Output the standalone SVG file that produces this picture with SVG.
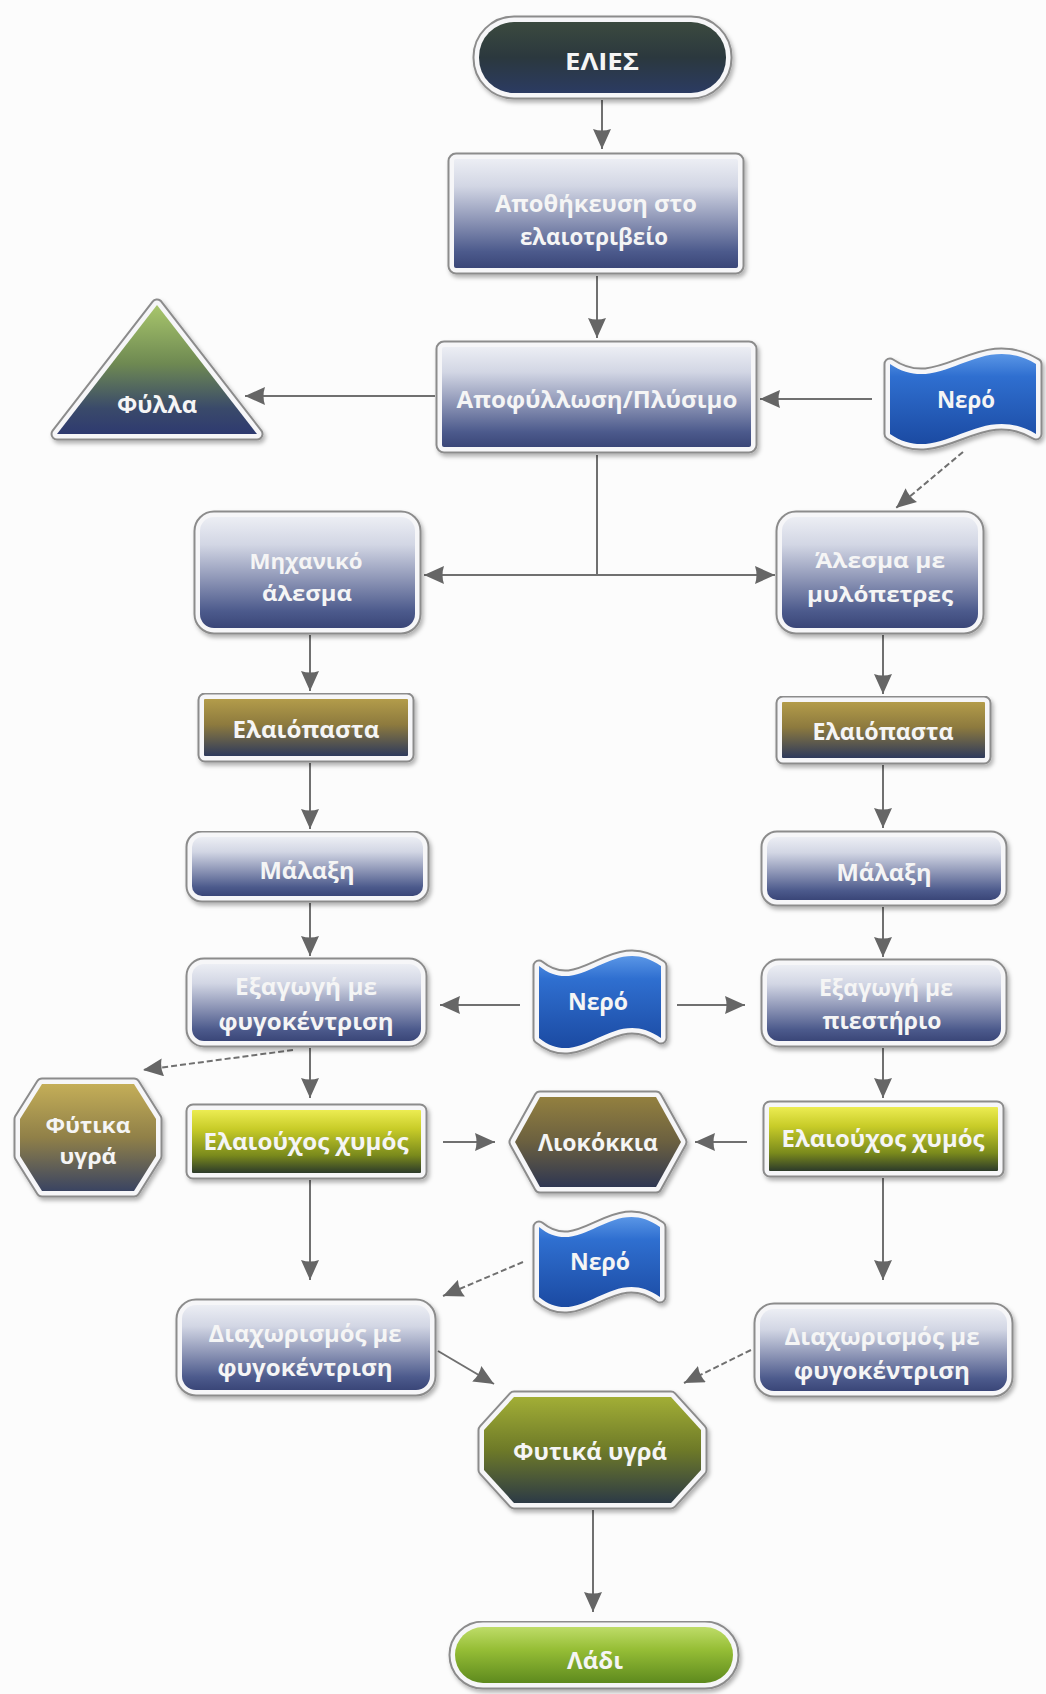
<svg xmlns="http://www.w3.org/2000/svg" width="1046" height="1694" viewBox="0 0 1046 1694">
<defs>
<style>
.ring{fill:none;stroke:#8c8c8c;stroke-width:13;stroke-linejoin:round;filter:url(#sh)}
.face{stroke:#f6f6f8;stroke-width:9;paint-order:stroke;stroke-linejoin:round}
.t{font-family:"Open Sans","DejaVu Sans",sans-serif;font-weight:700;font-size:24px;fill:#f5f5f5;text-anchor:middle}
.s{font-size:21px}
.c{fill:none;stroke:#707070;stroke-width:2;marker-end:url(#ah)}
.d{stroke-dasharray:6 3}
</style>
<filter id="sh" x="-10%" y="-10%" width="130%" height="140%"><feDropShadow dx="2" dy="3" stdDeviation="2" flood-color="#000" flood-opacity="0.3"/></filter>
<marker id="ah" viewBox="0 0 20 18" refX="20" refY="9" markerWidth="20" markerHeight="18" markerUnits="userSpaceOnUse" orient="auto"><path d="M0,0 L20,9 L0,18 Q3,9 0,0 Z" fill="#666"/></marker>
<linearGradient id="gBlue" x1="0" y1="0" x2="0" y2="1"><stop offset="0" stop-color="#eceef4"/><stop offset="0.25" stop-color="#d2d6e4"/><stop offset="0.55" stop-color="#9098b8"/><stop offset="0.85" stop-color="#4c5a8c"/><stop offset="1" stop-color="#3a4678"/></linearGradient>
<linearGradient id="gDark" x1="0" y1="0" x2="0" y2="1"><stop offset="0" stop-color="#3b4a3f"/><stop offset="0.5" stop-color="#2b383e"/><stop offset="1" stop-color="#2b3b62"/></linearGradient>
<linearGradient id="gBrown" x1="0" y1="0" x2="0" y2="1"><stop offset="0" stop-color="#b39c4a"/><stop offset="0.45" stop-color="#8d7a3e"/><stop offset="1" stop-color="#2e3a5c"/></linearGradient>
<linearGradient id="gYel" x1="0" y1="0" x2="0" y2="1"><stop offset="0" stop-color="#ecec52"/><stop offset="0.3" stop-color="#c8cc28"/><stop offset="0.72" stop-color="#7a8a1c"/><stop offset="1" stop-color="#2c3a2a"/></linearGradient>
<linearGradient id="gHex" x1="0" y1="0" x2="0" y2="1"><stop offset="0" stop-color="#93803f"/><stop offset="0.5" stop-color="#6b6040"/><stop offset="1" stop-color="#2e3652"/></linearGradient>
<linearGradient id="gKhaki" x1="0" y1="0" x2="0" y2="1"><stop offset="0" stop-color="#c4ae58"/><stop offset="0.5" stop-color="#908048"/><stop offset="1" stop-color="#3a4462"/></linearGradient>
<linearGradient id="gOlive" x1="0" y1="0" x2="0" y2="1"><stop offset="0" stop-color="#a2ae36"/><stop offset="0.5" stop-color="#6e7a28"/><stop offset="1" stop-color="#2c3a46"/></linearGradient>
<linearGradient id="gGreen" x1="0" y1="0" x2="0" y2="1"><stop offset="0" stop-color="#bedc68"/><stop offset="0.4" stop-color="#96be36"/><stop offset="1" stop-color="#5e8a1e"/></linearGradient>
<linearGradient id="gTri" x1="0" y1="0" x2="0" y2="1"><stop offset="0" stop-color="#a8c66c"/><stop offset="0.45" stop-color="#6f8a52"/><stop offset="0.8" stop-color="#3a4a6a"/><stop offset="1" stop-color="#2e3a70"/></linearGradient>
<linearGradient id="gWater" x1="0" y1="0" x2="0" y2="1"><stop offset="0" stop-color="#5a96e6"/><stop offset="0.25" stop-color="#2f6fd0"/><stop offset="1" stop-color="#1b4aa2"/></linearGradient>
</defs>
<rect width="1046" height="1694" fill="#fcfcfc"/>

<g id="connectors">
<path class="c" d="M602,100 V149"/>
<path class="c" d="M597,276 V338"/>
<path class="c" d="M435,396 H245"/>
<path class="c" d="M872,399 H760"/>
<path class="c" d="M597,455 V575 H424"/>
<path class="c" d="M597,575 H775"/>
<path class="c d" d="M963,452 L896,508"/>
<path class="c" d="M310,635 V691"/>
<path class="c" d="M310,763 V829"/>
<path class="c" d="M310,903 V956"/>
<path class="c" d="M883,635 V694"/>
<path class="c" d="M883,765 V828"/>
<path class="c" d="M883,907 V957"/>
<path class="c" d="M520,1005 H440"/>
<path class="c" d="M677,1005 H745"/>
<path class="c d" d="M293,1050 L143,1070"/>
<path class="c" d="M310,1048 V1098"/>
<path class="c" d="M883,1048 V1098"/>
<path class="c" d="M443,1142 H495"/>
<path class="c" d="M747,1142 H695"/>
<path class="c" d="M310,1180 V1280"/>
<path class="c" d="M883,1178 V1280"/>
<path class="c d" d="M523,1262 L443,1296"/>
<path class="c" d="M438,1351 L494,1384"/>
<path class="c d" d="M751,1350 L684,1383"/>
<path class="c" d="M593,1510 V1612"/>
</g>

<g id="n-elies">
<rect class="ring" x="479" y="22" width="247" height="71" rx="35"/>
<rect class="face" fill="url(#gDark)" x="479" y="22" width="247" height="71" rx="35"/>
<text class="t" x="602" y="70" font-size="26" textLength="74" lengthAdjust="spacingAndGlyphs">ΕΛΙΕΣ</text>
</g>

<g id="n-apothikeusi">
<rect class="ring" x="454" y="159" width="284" height="109" rx="2"/>
<rect class="face" fill="url(#gBlue)" x="454" y="159" width="284" height="109" rx="2"/>
<text class="t" x="596" y="212" textLength="202" lengthAdjust="spacingAndGlyphs">Αποθήκευση στο</text>
<text class="t" x="594" y="245" textLength="148" lengthAdjust="spacingAndGlyphs">ελαιοτριβείο</text>
</g>

<g id="n-apofyllosi">
<rect class="ring" x="442" y="347" width="309" height="100" rx="2"/>
<rect class="face" fill="url(#gBlue)" x="442" y="347" width="309" height="100" rx="2"/>
<text class="t" x="597" y="408" textLength="281" lengthAdjust="spacingAndGlyphs">Αποφύλλωση/Πλύσιμο</text>
</g>

<g id="n-fylla">
<path class="ring" d="M157,305 L257,434 L57,434 Z"/>
<path class="face" fill="url(#gTri)" d="M157,305 L257,434 L57,434 Z"/>
<text class="t" x="157" y="413" textLength="80" lengthAdjust="spacingAndGlyphs">Φύλλα</text>
</g>

<g id="n-nero1">
<path class="ring" transform="translate(890,352)" d="M0,12 C51,47 88,-23 146,12 L146,82 C88,47 51,117 0,82 Z"/>
<path class="face" fill="url(#gWater)" transform="translate(890,352)" d="M0,12 C51,47 88,-23 146,12 L146,82 C88,47 51,117 0,82 Z"/>
<text class="t" x="966" y="408" textLength="58" lengthAdjust="spacingAndGlyphs">Νερό</text>
</g>

<g id="n-michaniko">
<rect class="ring" x="200" y="517" width="215" height="111" rx="14"/>
<rect class="face" fill="url(#gBlue)" x="200" y="517" width="215" height="111" rx="14"/>
<text class="t s" x="306" y="569" textLength="113" lengthAdjust="spacingAndGlyphs">Μηχανικό</text>
<text class="t s" x="307" y="601" textLength="90" lengthAdjust="spacingAndGlyphs">άλεσμα</text>
</g>

<g id="n-mylopetres">
<rect class="ring" x="782" y="517" width="196" height="111" rx="14"/>
<rect class="face" fill="url(#gBlue)" x="782" y="517" width="196" height="111" rx="14"/>
<text class="t s" x="880" y="568" textLength="130" lengthAdjust="spacingAndGlyphs">Άλεσμα με</text>
<text class="t s" x="880" y="602" textLength="146" lengthAdjust="spacingAndGlyphs">μυλόπετρες</text>
</g>

<g id="n-elaiopasta-l">
<rect class="ring" x="204" y="699" width="204" height="57" rx="1"/>
<rect class="face" fill="url(#gBrown)" x="204" y="699" width="204" height="57" rx="1"/>
<text class="t" x="306" y="738" textLength="147" lengthAdjust="spacingAndGlyphs">Ελαιόπαστα</text>
</g>

<g id="n-elaiopasta-r">
<rect class="ring" x="782" y="702" width="203" height="56" rx="1"/>
<rect class="face" fill="url(#gBrown)" x="782" y="702" width="203" height="56" rx="1"/>
<text class="t" x="883" y="740" textLength="141" lengthAdjust="spacingAndGlyphs">Ελαιόπαστα</text>
</g>

<g id="n-malaxi-l">
<rect class="ring" x="192" y="837" width="231" height="59" rx="10"/>
<rect class="face" fill="url(#gBlue)" x="192" y="837" width="231" height="59" rx="10"/>
<text class="t" x="307" y="879" textLength="95" lengthAdjust="spacingAndGlyphs">Μάλαξη</text>
</g>

<g id="n-malaxi-r">
<rect class="ring" x="767" y="837" width="234" height="63" rx="10"/>
<rect class="face" fill="url(#gBlue)" x="767" y="837" width="234" height="63" rx="10"/>
<text class="t" x="884" y="881" textLength="95" lengthAdjust="spacingAndGlyphs">Μάλαξη</text>
</g>

<g id="n-exagogi-l">
<rect class="ring" x="192" y="964" width="229" height="77" rx="12"/>
<rect class="face" fill="url(#gBlue)" x="192" y="964" width="229" height="77" rx="12"/>
<text class="t" x="306" y="995" textLength="142" lengthAdjust="spacingAndGlyphs">Εξαγωγή με</text>
<text class="t" x="306" y="1030" textLength="175" lengthAdjust="spacingAndGlyphs">φυγοκέντριση</text>
</g>

<g id="n-nero2">
<path class="ring" transform="translate(539,954)" d="M0,12 C43,47 73,-23 122,12 L122,84 C73,49 43,119 0,84 Z"/>
<path class="face" fill="url(#gWater)" transform="translate(539,954)" d="M0,12 C43,47 73,-23 122,12 L122,84 C73,49 43,119 0,84 Z"/>
<text class="t" x="598" y="1010" textLength="60" lengthAdjust="spacingAndGlyphs">Νερό</text>
</g>

<g id="n-exagogi-r">
<rect class="ring" x="767" y="965" width="234" height="76" rx="12"/>
<rect class="face" fill="url(#gBlue)" x="767" y="965" width="234" height="76" rx="12"/>
<text class="t" x="886" y="996" textLength="134" lengthAdjust="spacingAndGlyphs">Εξαγωγή με</text>
<text class="t" x="882" y="1029" textLength="119" lengthAdjust="spacingAndGlyphs">πιεστήριο</text>
</g>

<g id="n-fytika-l">
<path class="ring" d="M42,1084 L134,1084 L156,1119 L156,1156 L134,1191 L42,1191 L20,1156 L20,1119 Z"/>
<path class="face" fill="url(#gKhaki)" d="M42,1084 L134,1084 L156,1119 L156,1156 L134,1191 L42,1191 L20,1156 L20,1119 Z"/>
<text class="t s" x="88" y="1133" textLength="85" lengthAdjust="spacingAndGlyphs">Φύτικα</text>
<text class="t s" x="88" y="1164" textLength="57" lengthAdjust="spacingAndGlyphs">υγρά</text>
</g>

<g id="n-chymos-l">
<rect class="ring" x="192" y="1110" width="229" height="63" rx="1"/>
<rect class="face" fill="url(#gYel)" x="192" y="1110" width="229" height="63" rx="1"/>
<text class="t" x="306" y="1150" textLength="205" lengthAdjust="spacingAndGlyphs">Ελαιούχος χυμός</text>
</g>

<g id="n-liokokkia">
<path class="ring" d="M540,1097 L656,1097 L681,1142 L656,1187 L540,1187 L515,1142 Z"/>
<path class="face" fill="url(#gHex)" d="M540,1097 L656,1097 L681,1142 L656,1187 L540,1187 L515,1142 Z"/>
<text class="t" x="598" y="1151" textLength="120" lengthAdjust="spacingAndGlyphs">Λιοκόκκια</text>
</g>

<g id="n-chymos-r">
<rect class="ring" x="769" y="1107" width="229" height="64" rx="1"/>
<rect class="face" fill="url(#gYel)" x="769" y="1107" width="229" height="64" rx="1"/>
<text class="t" x="883" y="1147" textLength="203" lengthAdjust="spacingAndGlyphs">Ελαιούχος χυμός</text>
</g>

<g id="n-nero3">
<path class="ring" transform="translate(539,1215)" d="M0,12 C42,47 73,-23 121,12 L121,82 C73,47 42,117 0,82 Z"/>
<path class="face" fill="url(#gWater)" transform="translate(539,1215)" d="M0,12 C42,47 73,-23 121,12 L121,82 C73,47 42,117 0,82 Z"/>
<text class="t" x="600" y="1270" textLength="60" lengthAdjust="spacingAndGlyphs">Νερό</text>
</g>

<g id="n-diachorismos-l">
<rect class="ring" x="182" y="1305" width="248" height="85" rx="14"/>
<rect class="face" fill="url(#gBlue)" x="182" y="1305" width="248" height="85" rx="14"/>
<text class="t" x="305" y="1342" textLength="193" lengthAdjust="spacingAndGlyphs">Διαχωρισμός με</text>
<text class="t" x="305" y="1376" textLength="175" lengthAdjust="spacingAndGlyphs">φυγοκέντριση</text>
</g>

<g id="n-diachorismos-r">
<rect class="ring" x="760" y="1309" width="247" height="82" rx="14"/>
<rect class="face" fill="url(#gBlue)" x="760" y="1309" width="247" height="82" rx="14"/>
<text class="t" x="882" y="1345" textLength="195" lengthAdjust="spacingAndGlyphs">Διαχωρισμός με</text>
<text class="t" x="882" y="1379" textLength="176" lengthAdjust="spacingAndGlyphs">φυγοκέντριση</text>
</g>

<g id="n-fytika-ygra">
<path class="ring" d="M514,1397 L671,1397 L701,1430 L701,1470 L671,1503 L514,1503 L484,1470 L484,1430 Z"/>
<path class="face" fill="url(#gOlive)" d="M514,1397 L671,1397 L701,1430 L701,1470 L671,1503 L514,1503 L484,1470 L484,1430 Z"/>
<text class="t" x="590" y="1460" textLength="154" lengthAdjust="spacingAndGlyphs">Φυτικά υγρά</text>
</g>

<g id="n-ladi">
<rect class="ring" x="455" y="1627" width="278" height="56" rx="28"/>
<rect class="face" fill="url(#gGreen)" x="455" y="1627" width="278" height="56" rx="28"/>
<text class="t" x="595" y="1669" textLength="56" lengthAdjust="spacingAndGlyphs">Λάδι</text>
</g>
</svg>
